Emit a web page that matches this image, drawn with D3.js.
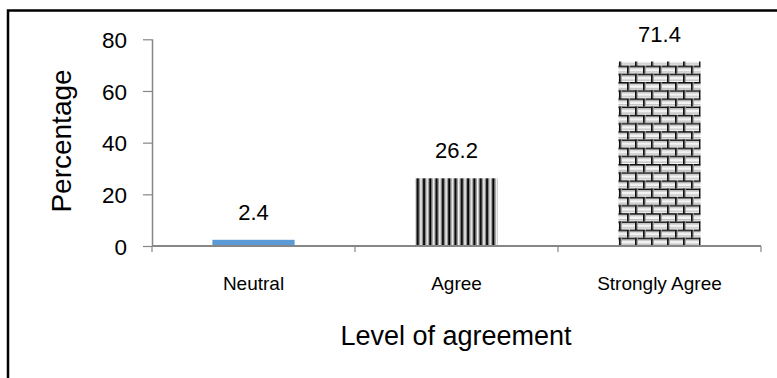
<!DOCTYPE html>
<html>
<head>
<meta charset="utf-8">
<script src="https://cdn.jsdelivr.net/npm/d3@7"></script>
<style>
  html, body { margin: 0; padding: 0; background: #fff; }
  svg { display: block; }
</style>
</head>
<body>
<svg id="chart" width="777" height="378"></svg>
<script>
// Survey responses: share of respondents by level of agreement
const categories = ["Neutral", "Agree", "Strongly Agree"];
const percentages = [2.4, 26.2, 71.4];
const yTicks = [0, 20, 40, 60, 80];
const fills = ["#5B9BD5", "url(#stripes)", "url(#bricks)"];

const svg = d3.select("#chart");
const W = 777, H = 378;
const plot = { left: 152, right: 761, top: 39.3, bottom: 246 };
const FONT = "'Liberation Sans', Arial, sans-serif";

// ---- fill patterns ----
const defs = svg.append("defs");

// vertical stripes
const stripes = defs.append("pattern")
  .attr("id", "stripes").attr("patternUnits", "userSpaceOnUse")
  .attr("x", 0).attr("width", 6.3).attr("height", 10);
stripes.append("rect").attr("width", 6.3).attr("height", 10).attr("fill", "#fff");
stripes.append("rect").attr("x", 0).attr("width", 1).attr("height", 10).attr("fill", "#888");
stripes.append("rect").attr("x", 1).attr("width", 2.2).attr("height", 10).attr("fill", "#000");
stripes.append("rect").attr("x", 3.2).attr("width", 1).attr("height", 10).attr("fill", "#777");
stripes.append("rect").attr("x", 5.2).attr("width", 1.1).attr("height", 10).attr("fill", "#ccc");

// brick wall
const bw = 16, bh = 8.2;
const bricks = defs.append("pattern")
  .attr("id", "bricks").attr("patternUnits", "userSpaceOnUse")
  .attr("width", bw).attr("height", bh * 2);
bricks.append("rect").attr("width", bw).attr("height", bh * 2).attr("fill", "#f4f4f4");
// brick face shading
[0, bh].forEach((yy) => {
  bricks.append("rect").attr("x", 0).attr("y", yy + 2).attr("width", bw).attr("height", 1.4).attr("fill", "#d0d0d0");
  bricks.append("rect").attr("x", 0).attr("y", yy + bh - 2.4).attr("width", bw).attr("height", 1.2).attr("fill", "#bbb");
});
// horizontal mortar
bricks.append("rect").attr("x", 0).attr("y", 0).attr("width", bw).attr("height", 1.6).attr("fill", "#111");
bricks.append("rect").attr("x", 0).attr("y", bh).attr("width", bw).attr("height", 1.6).attr("fill", "#111");
// vertical joints, offset each row
bricks.append("rect").attr("x", 3).attr("y", 0).attr("width", 1.8).attr("height", bh).attr("fill", "#111");
bricks.append("rect").attr("x", 11).attr("y", bh).attr("width", 1.8).attr("height", bh).attr("fill", "#111");
bricks.append("rect").attr("x", 4.8).attr("y", 0).attr("width", 1).attr("height", bh).attr("fill", "#999");
bricks.append("rect").attr("x", 12.8).attr("y", bh).attr("width", 1).attr("height", bh).attr("fill", "#999");

// ---- outer frame (left and top edges) ----
svg.append("path")
  .attr("d", `M8,${H} L8,10.5 L${W},10.5`)
  .attr("fill", "none").attr("stroke", "#000").attr("stroke-width", 2.5);

// ---- scales ----
const x = d3.scaleBand().domain(categories).range([plot.left, plot.right]).paddingInner(0).paddingOuter(0);
const y = d3.scaleLinear().domain([0, 80]).range([plot.bottom, plot.top]);
const barW = x.bandwidth() * 0.405;

// ---- y axis ----
const yAxis = svg.append("g").attr("transform", `translate(${plot.left},0)`)
  .call(d3.axisLeft(y).tickValues(yTicks).tickSize(9).tickPadding(16).tickFormat(d3.format("d")));
yAxis.select(".domain").attr("stroke", "#868686").attr("stroke-width", 1.5)
  .attr("d", `M0.5,${plot.top}V${plot.bottom}`);
yAxis.selectAll(".tick line").attr("stroke", "#868686").attr("stroke-width", 1.2);
yAxis.selectAll(".tick text")
  .attr("fill", "#000").attr("font-family", FONT)
  .attr("font-size", 22.5).attr("dy", "0.36em");

// ---- bars ----
svg.append("g").selectAll("rect")
  .data(categories)
  .join("rect")
  .attr("x", (d) => x(d) + (x.bandwidth() - barW) / 2)
  .attr("width", barW)
  .attr("y", (d, i) => y(percentages[i]))
  .attr("height", (d, i) => y(0) - y(percentages[i]))
  .attr("fill", (d, i) => fills[i]);

// ---- x axis ----
const xAxisG = svg.append("g").attr("transform", `translate(0,${plot.bottom})`);
xAxisG.append("line")
  .attr("x1", plot.left).attr("x2", plot.right)
  .attr("stroke", "#868686").attr("stroke-width", 2);
const boundaries = categories.map((c) => x(c)).concat([x(categories[categories.length - 1]) + x.bandwidth()]);
xAxisG.selectAll("line.tick")
  .data(boundaries)
  .join("line").attr("class", "tick")
  .attr("x1", (d) => d).attr("x2", (d) => d)
  .attr("y1", 0).attr("y2", 6)
  .attr("stroke", "#868686").attr("stroke-width", 1.2);
xAxisG.selectAll("text")
  .data(categories)
  .join("text")
  .attr("x", (d) => x(d) + x.bandwidth() / 2)
  .attr("y", 44)
  .attr("text-anchor", "middle")
  .attr("font-family", FONT)
  .attr("font-size", 19)
  .attr("fill", "#000")
  .text((d) => d);

// ---- value labels ----
svg.append("g").selectAll("text")
  .data(categories)
  .join("text")
  .attr("x", (d) => x(d) + x.bandwidth() / 2)
  .attr("y", (d, i) => y(percentages[i]) - 20)
  .attr("text-anchor", "middle")
  .attr("font-family", FONT)
  .attr("font-size", 22)
  .attr("fill", "#000")
  .text((d, i) => percentages[i]);

// ---- axis titles ----
svg.append("text")
  .attr("transform", `translate(71,141) rotate(-90)`)
  .attr("text-anchor", "middle")
  .attr("font-family", FONT)
  .attr("font-size", 28)
  .attr("fill", "#000")
  .text("Percentage");

svg.append("text")
  .attr("x", 456).attr("y", 345)
  .attr("text-anchor", "middle")
  .attr("font-family", FONT)
  .attr("font-size", 27)
  .attr("fill", "#000")
  .text("Level of agreement");
</script>
</body>
</html>
